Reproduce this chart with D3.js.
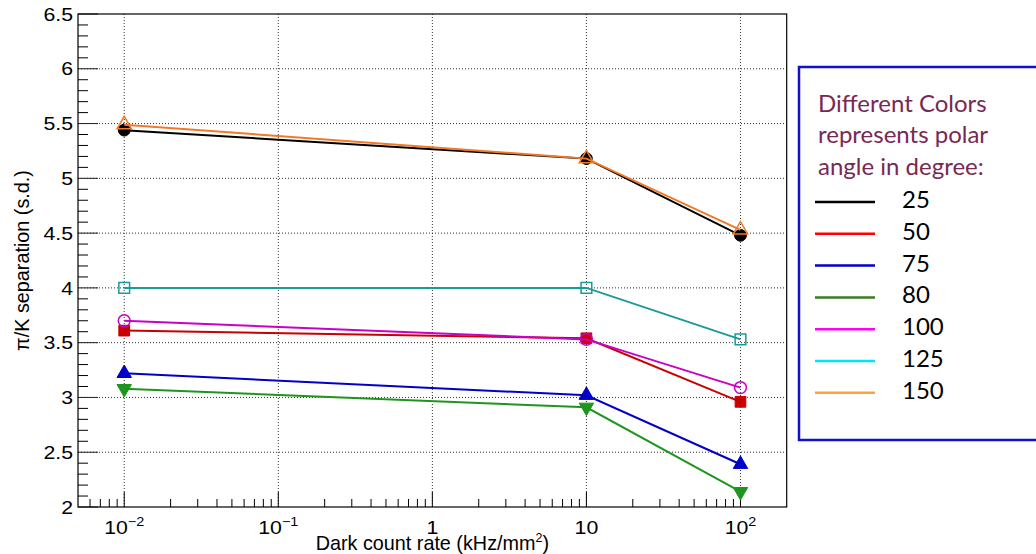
<!DOCTYPE html>
<html><head><meta charset="utf-8">
<script src="https://cdn.jsdelivr.net/npm/d3@7"></script>
<style>body{margin:0;background:#fff;} svg{display:block}</style>
</head><body><svg id="c" width="1036" height="554"></svg>
<script>
// ---- data ----
const rates = [0.01, 10, 100];
const angleLabels = ["25", "50", "75", "80", "100", "125", "150"];
const sep25  = [5.44, 5.18, 4.48];
const sep50  = [3.61, 3.54, 2.96];
const sep75  = [3.22, 3.02, 2.39];
const sep80  = [3.08, 2.91, 2.14];
const sep100 = [3.70, 3.53, 3.09];
const sep125 = [4.00, 4.00, 3.53];
const sep150 = [5.49, 5.18, 4.53];
const xTickValues = [0.01, 0.1, 1, 10, 100];
const xTickBase = ["10", "10", "1", "10", "10"];
const xTickSup  = ["\u22122", "\u22121", "", "", "2"];
const yTickValues = [2, 2.5, 3, 3.5, 4, 4.5, 5, 5.5, 6, 6.5];
const yTickLabels = ["2", "2.5", "3", "3.5", "4", "4.5", "5", "5.5", "6", "6.5"];
const legendTitle = ["Different Colors", "represents polar", "angle in degree:"];
const xTitle = "Dark count rate (kHz/mm";
const yTitle = "\u03c0/K separation (s.d.)";

// ---- styles ----
const seriesValues = [sep25, sep50, sep75, sep80, sep100, sep125, sep150];
const lineColors   = ["#000000", "#c80000", "#0000c8", "#1e961e", "#c800c8", "#1a9a9a", "#f07a28"];
const legendColors = ["#000000", "#ff0000", "#0000cc", "#3a7d22", "#ff00ff", "#00e5ff", "#ffa040"];
const markers = ["circle", "square", "triUp", "triDown", "openCircle", "openSquare", "openTriUp"];

const svg = d3.select("#c");
const L = 78, R = 786.7, T = 14, B = 507;
const x = d3.scaleLog().domain([Math.pow(10, -2.3), Math.pow(10, 2.3)]).range([L, R]);
const y = d3.scaleLinear().domain([2, 6.5]).range([B, T]);

// grid
const g = svg.append("g");
g.selectAll("line.gx").data(xTickValues).join("line")
  .attr("x1", d => x(d)).attr("x2", d => x(d)).attr("y1", T).attr("y2", B)
  .attr("stroke", "#333").attr("stroke-width", 1).attr("stroke-dasharray", "1,2");
g.selectAll("line.gy").data(yTickValues.filter(v => v > 2 && v < 6.5)).join("line")
  .attr("x1", L).attr("x2", R).attr("y1", d => y(d)).attr("y2", d => y(d))
  .attr("stroke", "#333").attr("stroke-width", 1).attr("stroke-dasharray", "1,2");

// x ticks (inside)
const xMinor = [];
for (let e = -3; e <= 2; e++) for (let k = 2; k <= 9; k++) {
  const v = k * Math.pow(10, e);
  if (v > x.domain()[0] && v < x.domain()[1]) xMinor.push(v);
}
g.selectAll("line.xmi").data(xMinor).join("line")
  .attr("x1", d => x(d)).attr("x2", d => x(d)).attr("y1", B).attr("y2", B - 8)
  .attr("stroke", "#000").attr("stroke-width", 1);
g.selectAll("line.xma").data(xTickValues).join("line")
  .attr("x1", d => x(d)).attr("x2", d => x(d)).attr("y1", B).attr("y2", B - 15)
  .attr("stroke", "#000").attr("stroke-width", 1);

// y ticks
const yMinor = d3.range(20, 66).map(v => v / 10).filter(v => Math.abs(v * 2 - Math.round(v * 2)) > 1e-6);
g.selectAll("line.ymi").data(yMinor).join("line")
  .attr("x1", L).attr("x2", L + 10).attr("y1", d => y(d)).attr("y2", d => y(d))
  .attr("stroke", "#000").attr("stroke-width", 1);
g.selectAll("line.yma").data(yTickValues).join("line")
  .attr("x1", L).attr("x2", L + 20).attr("y1", d => y(d)).attr("y2", d => y(d))
  .attr("stroke", "#222").attr("stroke-width", 1);

// frame
g.append("rect").attr("x", L).attr("y", T).attr("width", R - L).attr("height", B - T)
  .attr("fill", "none").attr("stroke", "#000").attr("stroke-width", 1.2);

// tick labels (horizontally stretched like the reference)
const font = "'Liberation Sans', Arial, Helvetica, sans-serif";
g.selectAll("text.yl").data(yTickValues).join("text")
  .attr("transform", d => `translate(73,${y(d)}) scale(1.15,1)`)
  .attr("dy", "0.36em")
  .attr("text-anchor", "end").attr("font-family", font).attr("font-size", 18.5)
  .text((d, i) => yTickLabels[i]);
const xl = g.selectAll("text.xl").data(xTickValues).join("text")
  .attr("transform", d => `translate(${x(d)},534) scale(1.15,1)`)
  .attr("text-anchor", "middle").attr("font-family", font).attr("font-size", 18.5);
xl.append("tspan").text((d, i) => xTickBase[i]);
xl.append("tspan").attr("dy", -8).attr("font-size", 12.5).text((d, i) => xTickSup[i]);

// axis titles
const xt = g.append("text").attr("x", (L + R) / 2).attr("y", 549.5)
  .attr("text-anchor", "middle").attr("font-family", font).attr("font-size", 19.8);
xt.append("tspan").text(xTitle);
xt.append("tspan").attr("dy", -8).attr("font-size", 12.5).text("2");
xt.append("tspan").attr("dy", 8).text(")");
g.append("text").attr("transform", `translate(29,${(T + B) / 2}) rotate(-90)`)
  .attr("text-anchor", "middle").attr("font-family", font).attr("font-size", 19.8)
  .text(yTitle);

// series
const line = d3.line().x(d => x(d[0])).y(d => y(d[1]));
const symSize = { circle: 110, square: 115, triUp: 90, triDown: 90, openCircle: 110, openSquare: 115, openTriUp: 90 };
seriesValues.forEach((vals, si) => {
  const pts = rates.map((r, i) => [r, vals[i]]);
  const col = lineColors[si];
  svg.append("path").datum(pts).attr("d", line)
    .attr("fill", "none").attr("stroke", col).attr("stroke-width", 2);
  const m = markers[si];
  const type = (m === "circle" || m === "openCircle") ? d3.symbolCircle
             : (m === "square" || m === "openSquare") ? d3.symbolSquare : d3.symbolTriangle;
  const open = m.startsWith("open");
  svg.selectAll(null).data(pts).join("path")
    .attr("d", d3.symbol().type(type).size(symSize[m]))
    .attr("transform", d => `translate(${x(d[0])},${y(d[1])})${m === "triDown" ? " rotate(180)" : ""}`)
    .attr("fill", open ? "none" : col)
    .attr("stroke", col).attr("stroke-width", open ? 1.5 : 1);
});

// legend box
const lg = svg.append("g");
lg.append("rect").attr("x", 799).attr("y", 67).attr("width", 300).attr("height", 373)
  .attr("fill", "#fff").attr("stroke", "#1010d0").attr("stroke-width", 2.5);
const lfont = "Lato, 'Open Sans', sans-serif";
lg.selectAll("text.lt").data(legendTitle).join("text")
  .attr("x", 818).attr("y", (d, i) => 111.7 + i * 31.7)
  .attr("font-family", lfont).attr("font-size", 24).attr("fill", "#772953")
  .text(d => d);
angleLabels.forEach((a, i) => {
  const by = 208 + i * 31.8;
  lg.append("line").attr("x1", 815).attr("x2", 875).attr("y1", by - 6).attr("y2", by - 6)
    .attr("stroke", legendColors[i]).attr("stroke-width", 2.5);
  lg.append("text").attr("x", 902).attr("y", by)
    .attr("font-family", lfont).attr("font-size", 24).attr("fill", "#000").text(a);
});
</script></body></html>
